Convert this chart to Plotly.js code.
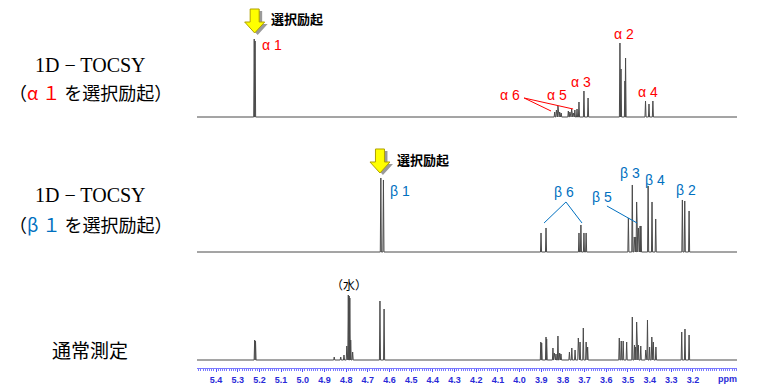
<!DOCTYPE html>
<html>
<head>
<meta charset="utf-8">
<script src="https://cdn.plot.ly/plotly-3.0.1.min.js"></script>
<style>html,body{margin:0;padding:0;background:#fff;}#chart{width:761px;height:391px;}</style>
</head>
<body>
<div id="chart"></div>
<script>
// ---- Data (chemical shift in ppm, intensity in arbitrary units) ----
const tickVals = [5.4, 5.3, 5.2, 5.1, 5.0, 4.9, 4.8, 4.7, 4.6, 4.5, 4.4, 4.3, 4.2, 4.1, 4.0, 3.9, 3.8, 3.7, 3.6, 3.5, 3.4, 3.3, 3.2];
const tickText = ["5.4","5.3","5.2","5.1","5.0","4.9","4.8","4.7","4.6","4.5","4.4","4.3","4.2","4.1","4.0","3.9","3.8","3.7","3.6","3.5","3.4","3.3","3.2"];

// 1D-TOCSY, alpha-1 selective excitation
const alphaPpm = [5.224, 5.220, 3.838, 3.830, 3.823, 3.815, 3.808, 3.775, 3.768, 3.760, 3.752, 3.745, 3.735, 3.726, 3.703, 3.684, 3.537, 3.532, 3.514, 3.511, 3.419, 3.403, 3.385];
const alphaInt = [78, 76, 5, 7, 11, 5, 4, 6, 5, 8, 4, 7, 8, 15, 26, 19, 74, 48, 36, 59, 16, 13, 16];

// 1D-TOCSY, beta-1 selective excitation
const betaPpm = [4.640, 4.628, 3.901, 3.878, 3.726, 3.717, 3.703, 3.693, 3.498, 3.480, 3.471, 3.464, 3.460, 3.452, 3.444, 3.440, 3.407, 3.389, 3.372, 3.249, 3.238, 3.218];
const betaInt = [74, 72, 19, 24, 19, 27, 19, 19, 34, 67, 15, 15, 50, 24, 26, 26, 66, 50, 33, 52, 51, 41];

// normal 1H spectrum
const normalPpm = [5.222, 5.218, 4.855, 4.825, 4.810, 4.797, 4.790, 4.786, 4.783, 4.779, 4.770, 4.644, 4.625,
  3.902, 3.898, 3.878, 3.875, 3.846, 3.840, 3.832, 3.823, 3.815, 3.809,
  3.770, 3.759, 3.744, 3.729, 3.721, 3.706, 3.693, 3.686,
  3.540, 3.531, 3.522, 3.506,
  3.480, 3.470, 3.465, 3.460, 3.452, 3.441,
  3.418, 3.410, 3.400, 3.390, 3.383, 3.371,
  3.252, 3.237, 3.218];
const normalInt = [20, 19, 3, 3, 5, 14, 65, 64, 62, 20, 8, 59, 51,
  18, 17, 23, 21, 12, 7, 6, 24, 7, 6,
  8, 12, 10, 22, 18, 32, 18, 13,
  22, 19, 19, 18,
  43, 15, 13, 38, 15, 14,
  10, 40, 13, 23, 18, 13,
  28, 31, 25];

// ---- Build line spectra from the peak lists ----
const xRange = [5.488, 2.997];
const halfWidth = 0.0025;
function spectrum(ppm, inten, yaxis) {
  const idx = ppm.map((p, i) => i).sort((a, b) => ppm[b] - ppm[a]);
  const x = [xRange[0]], y = [0];
  idx.forEach(i => {
    x.push(ppm[i] + halfWidth, ppm[i], ppm[i] - halfWidth);
    y.push(0, inten[i], 0);
  });
  x.push(xRange[1]); y.push(0);
  return {x: x, y: y, xaxis: 'x', yaxis: yaxis, type: 'scatter', mode: 'lines',
          line: {color: '#4a4a4a', width: 1}, hoverinfo: 'skip', showlegend: false};
}

const traces = [
  spectrum(alphaPpm, alphaInt, 'y3'),
  spectrum(betaPpm, betaInt, 'y2'),
  spectrum(normalPpm, normalInt, 'y')
];

const RED = '#ff0000', BLUE = '#0070c0';
const jp = '"Noto Sans CJK JP", sans-serif';
const lab = (t, x, y, yref, color) => ({text: t, x: x, y: y, xref: 'x', yref: yref, showarrow: false,
  font: {family: 'Liberation Sans, Arial, sans-serif', size: 14, color: color}});
const side = (t, y, font) => ({text: t, xref: 'paper', yref: 'paper', x: -0.198, y: y, xanchor: 'center', yanchor: 'middle',
  showarrow: false, font: font});

const annotations = [
  // left titles
  side('1D − TOCSY', 0.823, {family: '"Liberation Serif", serif', size: 20, color: '#000'}),
  side('（<span style="color:' + RED + '">α １</span> を選択励起）', 0.75, {family: jp, size: 18, color: '#000'}),
  side('1D − TOCSY', 0.470, {family: '"Liberation Serif", serif', size: 20, color: '#000'}),
  side('（<span style="color:' + BLUE + '">β １</span> を選択励起）', 0.391, {family: jp, size: 18, color: '#000'}),
  side('通常測定', 0.049, {family: jp, size: 19, color: '#000'}),
  // selective excitation labels
  {text: '<b>選択励起</b>', x: 5.026, y: 99, xref: 'x', yref: 'y3', showarrow: false, font: {family: jp, size: 13, color: '#000'}},
  {text: '<b>選択励起</b>', x: 4.445, y: 92, xref: 'x', yref: 'y2', showarrow: false, font: {family: jp, size: 13, color: '#000'}},
  // alpha labels
  lab('α 1', 5.142, 72, 'y3', RED),
  lab('α 2', 3.518, 83, 'y3', RED),
  lab('α 3', 3.716, 35, 'y3', RED),
  lab('α 4', 3.407, 25, 'y3', RED),
  lab('α 5', 3.827, 22, 'y3', RED),
  lab('α 6', 4.044, 22, 'y3', RED),
  // beta labels
  lab('β 1', 4.551, 61, 'y2', BLUE),
  lab('β 6', 3.795, 60, 'y2', BLUE),
  lab('β 5', 3.620, 55, 'y2', BLUE),
  lab('β 3', 3.490, 79, 'y2', BLUE),
  lab('β 4', 3.375, 72, 'y2', BLUE),
  lab('β 2', 3.232, 62, 'y2', BLUE),
  // water
  {text: '（水）', x: 4.787, y: 76, xref: 'x', yref: 'y', showarrow: false, font: {family: jp, size: 12, color: '#000'}},
  // ppm unit
  {text: '<b>ppm</b>', x: 3.043, y: 0, xref: 'x', yref: 'paper', yanchor: 'top', yshift: -4, showarrow: false,
   font: {family: 'Liberation Sans, Arial, sans-serif', size: 9, color: '#2a2ad8'}}
];

const arrowPath = 'M -4.5,24 L 4.5,24 L 4.5,11 L 10,11 L 0,0 L -10,11 L -4.5,11 Z';
function arrow(xc, yTip, yref) {
  return [
    {type: 'path', xref: 'x', yref: yref, xsizemode: 'pixel', ysizemode: 'pixel', xanchor: xc, yanchor: yTip,
     path: 'M -1.5,22 L 7.5,22 L 7.5,9 L 13,9 L 3,-2 L -7,9 L -1.5,9 Z', fillcolor: '#9a9a9a', line: {width: 0}},
    {type: 'path', xref: 'x', yref: yref, xsizemode: 'pixel', ysizemode: 'pixel', xanchor: xc, yanchor: yTip,
     path: arrowPath, fillcolor: '#ffff00', line: {color: '#b0a000', width: 1}}
  ];
}
const ln = (x0, y0, x1, y1, yref, color) => ({type: 'line', xref: 'x', yref: yref, x0: x0, y0: y0, x1: x1, y1: y1,
  line: {color: color, width: 1}});

const shapes = [].concat(
  arrow(5.222, 84, 'y3'),
  arrow(4.644, 79, 'y2'),
  [
    ln(3.979, 19, 3.855, 6, 'y3', RED),
    ln(3.979, 19, 3.753, 8, 'y3', RED),
    ln(3.786, 50, 3.887, 29, 'y2', BLUE),
    ln(3.786, 50, 3.712, 29, 'y2', BLUE),
    ln(3.597, 46, 3.458, 29, 'y2', BLUE)
  ]
);

const hiddenY = {showgrid: false, zeroline: false, showticklabels: false, showline: false, ticks: '', fixedrange: true};
const layout = {
  width: 761, height: 391,
  margin: {l: 197, r: 24, t: 0, b: 23},
  paper_bgcolor: '#fff', plot_bgcolor: '#fff',
  showlegend: false,
  xaxis: {range: xRange, anchor: 'y', showgrid: false, zeroline: false, showline: true, linecolor: '#7a7aff', linewidth: 1,
    tickmode: 'array', tickvals: tickVals, ticktext: tickText, ticks: 'outside', ticklen: 3, tickcolor: '#5050ff',
    minor: {dtick: 0.01, ticks: 'outside', ticklen: 1.5, tickcolor: '#7a7aff', showgrid: false},
    tickfont: {family: 'Liberation Sans, Arial, sans-serif', size: 9, color: '#2a2ad8', weight: 'bold'}},
  yaxis: Object.assign({domain: [0, 0.2989], range: [-8, 102], anchor: 'x'}, hiddenY),
  yaxis2: Object.assign({domain: [0.2989, 0.6196], range: [-6, 112], anchor: 'x'}, hiddenY),
  yaxis3: Object.assign({domain: [0.6603, 1], range: [-8, 117], anchor: 'x'}, hiddenY),
  annotations: annotations,
  shapes: shapes
};

Plotly.newPlot('chart', traces, layout, {staticPlot: true, displayModeBar: false});
</script>
</body>
</html>
